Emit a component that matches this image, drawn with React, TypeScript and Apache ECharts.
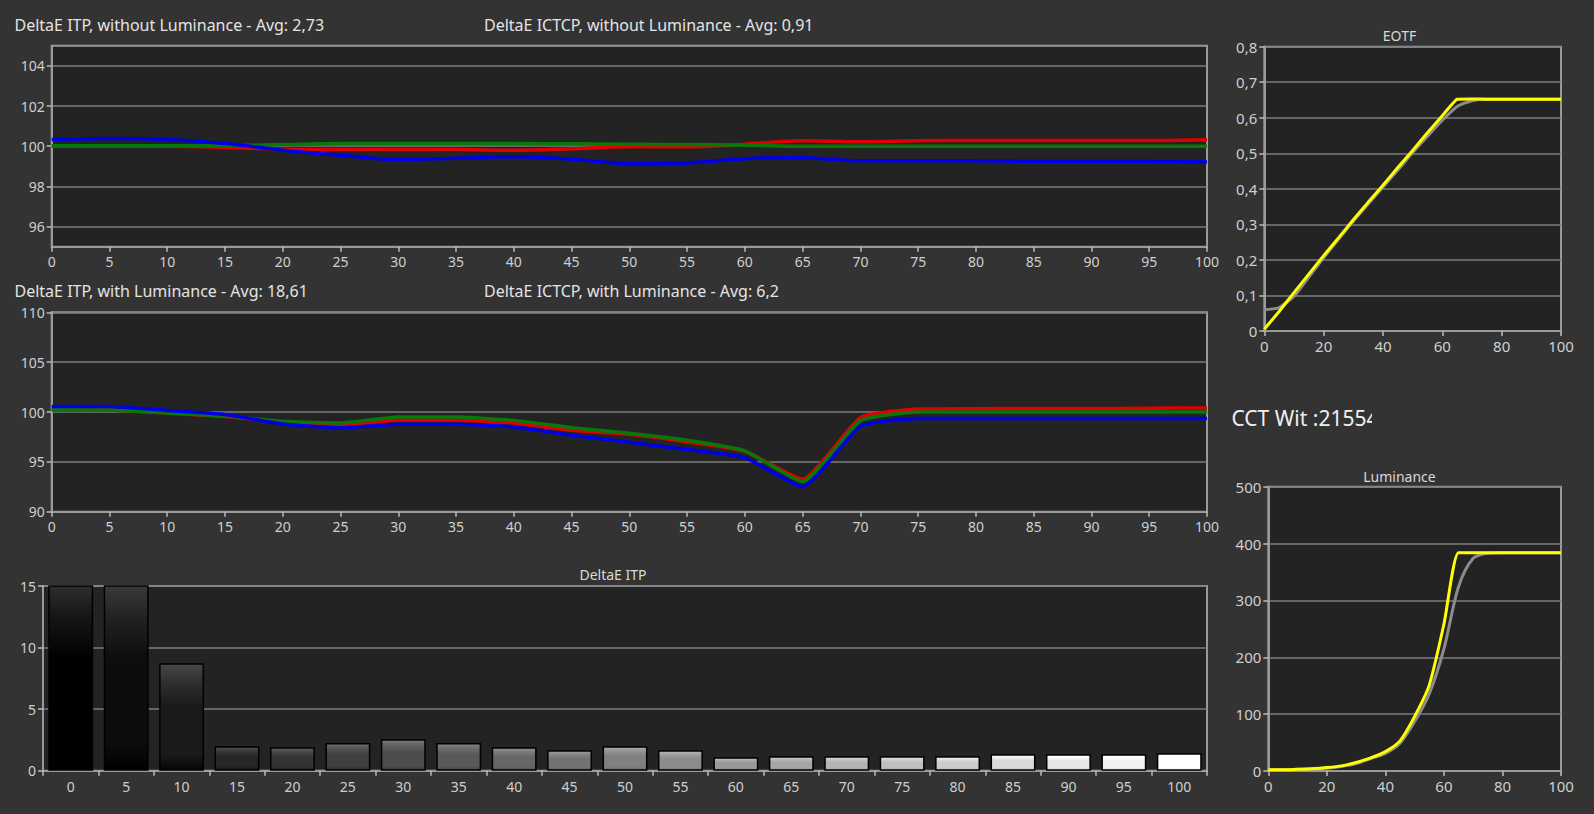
import React, { useEffect, useRef } from 'react';
import * as echarts from 'echarts';

// ---------- DATA ----------
const PCT = [0, 5, 10, 15, 20, 25, 30, 35, 40, 45, 50, 55, 60, 65, 70, 75, 80, 85, 90, 95, 100];
const BAR_CATEGORIES = ['0', '5', '10', '15', '20', '25', '30', '35', '40', '45', '50', '55', '60', '65', '70', '75', '80', '85', '90', '95', '100'];

// RGB balance without luminance
const topRed = [100.0, 100.0, 100.0, 99.95, 99.85, 99.83, 99.83, 99.83, 99.8, 99.87, 99.97, 99.97, 100.1, 100.27, 100.22, 100.27, 100.28, 100.28, 100.28, 100.28, 100.32];
const topGreen = [100.02, 100.02, 100.02, 100.03, 100.08, 100.13, 100.13, 100.13, 100.13, 100.12, 100.1, 100.08, 100.05, 100.0, 100.0, 100.0, 100.0, 100.0, 100.0, 100.0, 100.0];
const topBlue = [100.33, 100.38, 100.33, 100.13, 99.8, 99.55, 99.33, 99.4, 99.47, 99.35, 99.13, 99.17, 99.38, 99.43, 99.27, 99.27, 99.27, 99.25, 99.25, 99.25, 99.22];

// RGB balance with luminance
const midRed = [100.2, 100.2, 99.9, 99.55, 99.0, 98.7, 99.16, 99.16, 98.9, 98.16, 97.76, 97.0, 96.06, 93.26, 99.43, 100.3, 100.33, 100.35, 100.35, 100.38, 100.4];
const midGreen = [100.23, 100.2, 99.9, 99.6, 99.06, 98.9, 99.5, 99.5, 99.16, 98.43, 97.86, 97.16, 96.1, 93.0, 99.13, 100.0, 100.0, 100.0, 100.0, 100.0, 100.0];
const midBlue = [100.56, 100.56, 100.16, 99.76, 98.8, 98.4, 98.77, 98.77, 98.5, 97.66, 96.96, 96.23, 95.43, 92.5, 98.56, 99.36, 99.36, 99.36, 99.36, 99.36, 99.36];

// DeltaE ITP bars
const deltaITP = [24, 15.6, 8.72, 1.98, 1.9, 2.25, 2.55, 2.25, 1.9, 1.66, 1.98, 1.66, 1.09, 1.17, 1.17, 1.17, 1.17, 1.33, 1.33, 1.33, 1.41];

// EOTF
const eotfTarget = [0.06, 0.066, 0.098, 0.152, 0.206, 0.258, 0.309, 0.357, 0.405, 0.453, 0.502, 0.548, 0.593, 0.632, 0.648, 0.652, 0.652, 0.652, 0.652, 0.652, 0.652];
const eotfMeasured = [0.005, 0.055, 0.108, 0.16, 0.212, 0.262, 0.313, 0.362, 0.41, 0.46, 0.508, 0.558, 0.606, 0.652, 0.653, 0.652, 0.652, 0.652, 0.652, 0.652, 0.652];

// Luminance (cd/m2)
const lumTarget = [2, 2, 3, 4, 5, 8, 13, 22, 31, 49, 87, 136, 215, 324, 374, 383, 384, 384, 384, 384, 384];
const lumMeasured = [2, 2, 3, 4, 6, 9, 15, 23, 34, 53, 96, 151, 258, 384, 384, 384, 384, 384, 384, 384, 384];

const topYTicks = [96, 98, 100, 102, 104];

const TITLES = {
  itpNoLum: 'DeltaE ITP, without Luminance - Avg: 2,73',
  ictcpNoLum: 'DeltaE ICTCP, without Luminance - Avg: 0,91',
  itpLum: 'DeltaE ITP, with Luminance - Avg: 18,61',
  ictcpLum: 'DeltaE ICTCP, with Luminance - Avg: 6,2',
  bars: 'DeltaE ITP',
  eotf: 'EOTF',
  lum: 'Luminance',
  cct: 'CCT Wit :21554',
};

// ---------- STYLE ----------
const FONT = '"Segoe UI", "Noto Sans", "Open Sans", sans-serif';
const LABEL = '#cfcfcf';
const GRIDLINE = '#7d7d7d';
const BORDER = '#9a9a9a';
const PLOT_BG = '#232323';
const PAGE_BG = '#333333';

const pair = (xs: number[], ys: number[]) => xs.map((x, i) => [x, ys[i]]);

function gray(l: number) {
  const v = Math.max(0, Math.min(255, Math.round(l)));
  return `rgb(${v},${v},${v})`;
}

export default function App() {
  const ref = useRef<HTMLDivElement>(null);

  useEffect(() => {
    if (!ref.current) return;
    const chart = echarts.init(ref.current, undefined, { renderer: 'svg' });

    const gridBase = { show: true, backgroundColor: PLOT_BG, borderColor: BORDER, borderWidth: 2, containLabel: false };
    const grids = [
      { ...gridBase, left: 51.7, top: 45.7, width: 1155.3, height: 201 },
      { ...gridBase, left: 51.7, top: 312.3, width: 1155.3, height: 199.4 },
      { ...gridBase, left: 43, top: 586, width: 1164, height: 184.7 },
      { ...gridBase, left: 1264.3, top: 46.7, width: 296.7, height: 284.3 },
      { ...gridBase, left: 1268.3, top: 486.7, width: 292.7, height: 284.3 },
    ];

    const axisLabel = { color: LABEL, fontSize: 14, fontFamily: FONT };
    const axisLine = { show: true, lineStyle: { color: BORDER, width: 2 } };
    const axisTick = { show: true, length: 5, lineStyle: { color: '#bdbdbd', width: 1.5 } };
    const splitLine = { show: true, lineStyle: { color: GRIDLINE, width: 1.5 } };

    const pctAxis = (gridIndex: number) => ({
      type: 'value', gridIndex, min: 0, max: 100, interval: 5,
      axisLabel: { ...axisLabel, margin: 8 }, axisLine, axisTick, splitLine: { show: false },
    });
    const small20Axis = (gridIndex: number) => ({
      type: 'value', gridIndex, min: 0, max: 100, interval: 20,
      axisLabel: { ...axisLabel, fontSize: 15, margin: 7 }, axisLine, axisTick, splitLine: { show: false },
    });

    const xAxis = [
      pctAxis(0),
      pctAxis(1),
      {
        type: 'category', gridIndex: 2, data: BAR_CATEGORIES, boundaryGap: true,
        axisLabel: { ...axisLabel, margin: 9 }, axisLine,
        axisTick: { ...axisTick, alignWithLabel: false }, splitLine: { show: false },
      },
      small20Axis(3),
      small20Axis(4),
    ];

    const yAxis = [
      {
        type: 'value', gridIndex: 0, min: 95, max: 105,
        axisLabel: { ...axisLabel, margin: 7, customValues: topYTicks },
        axisTick: { ...axisTick, customValues: topYTicks },
        axisLine, splitLine,
      },
      {
        type: 'value', gridIndex: 1, min: 90, max: 110, interval: 5,
        axisLabel: { ...axisLabel, margin: 7 }, axisLine, axisTick, splitLine,
      },
      {
        type: 'value', gridIndex: 2, min: 0, max: 15, interval: 5,
        axisLabel: { ...axisLabel, margin: 7 }, axisLine, axisTick, splitLine,
      },
      {
        type: 'value', gridIndex: 3, min: 0, max: 0.8, interval: 0.1,
        axisLabel: {
          ...axisLabel, fontSize: 15, margin: 7,
          formatter: (v: number) => (v === 0 ? '0' : (Math.round(v * 10) / 10).toFixed(1).replace('.', ',')),
        },
        axisLine, axisTick, splitLine,
      },
      {
        type: 'value', gridIndex: 4, min: 0, max: 500, interval: 100,
        axisLabel: { ...axisLabel, fontSize: 15, margin: 7 }, axisLine, axisTick, splitLine,
      },
    ];

    const line = (name: string, xi: number, data: number[][], color: string, width: number, smooth: number | boolean) => ({
      type: 'line', name, xAxisIndex: xi, yAxisIndex: xi, data, showSymbol: false, symbol: 'none',
      smooth, lineStyle: { color, width }, itemStyle: { color }, z: 3,
    });

    const RED = '#e00000';
    const GREEN = '#087808';
    const BLUE = '#0000e6';

    const barData = deltaITP.map((v, i) => {
      const l = (255 * PCT[i]) / 100;
      return {
        value: v,
        itemStyle: {
          color: new echarts.graphic.LinearGradient(0, 0, 0, 1, [
            { offset: 0, color: gray(l + 45) },
            { offset: 0.18, color: gray(l + 20) },
            { offset: 0.4, color: gray(l) },
            { offset: 0.85, color: gray(l) },
            { offset: 1, color: gray(l - 20) },
          ]),
          borderColor: '#000',
          borderWidth: 1.5,
        },
      };
    });

    const txt = (text: string, x: number, y: number, size: number, align = 'left', fill = '#e4e4e4') => ({
      type: 'text', x, y, silent: true, z: 10,
      style: { text, fill, fontSize: size, fontFamily: FONT, align, verticalAlign: 'middle' },
    });

    chart.setOption({
      animation: false,
      backgroundColor: PAGE_BG,
      grid: grids,
      xAxis,
      yAxis,
      series: [
        line('R', 0, pair(PCT, topRed), RED, 3.5, 0.35),
        line('G', 0, pair(PCT, topGreen), GREEN, 3.5, 0.35),
        line('B', 0, pair(PCT, topBlue), BLUE, 3.5, 0.35),
        line('R', 1, pair(PCT, midRed), RED, 3.5, 0.15),
        line('G', 1, pair(PCT, midGreen), GREEN, 3.5, 0.15),
        line('B', 1, pair(PCT, midBlue), BLUE, 3.5, 0.15),
        {
          type: 'bar', name: 'DeltaE ITP', xAxisIndex: 2, yAxisIndex: 2, data: barData,
          barCategoryGap: '19%', clip: true, z: 3,
        },
        line('Target', 3, pair(PCT, eotfTarget), '#8c8c8c', 3, 0.2),
        line('Measured', 3, pair(PCT, eotfMeasured), '#ffff00', 3, 0.1),
        line('Target', 4, pair(PCT, lumTarget), '#8c8c8c', 3, 0.3),
        line('Measured', 4, pair(PCT, lumMeasured), '#ffff00', 3, 0.2),
      ],
      graphic: [
        txt(TITLES.itpNoLum, 14.5, 25, 16),
        txt(TITLES.ictcpNoLum, 484, 25, 16),
        txt(TITLES.itpLum, 14.5, 291, 16),
        txt(TITLES.ictcpLum, 484, 291, 16),
        txt(TITLES.bars, 613, 574.5, 14, 'center', '#d8d8d8'),
        txt(TITLES.eotf, 1399.5, 35, 14, 'center', '#d8d8d8'),
        txt(TITLES.lum, 1399.5, 476, 14, 'center', '#d8d8d8'),
        txt(TITLES.cct, 1231.5, 418, 21, 'left', '#f0f0f0'),
        {
          type: 'rect', silent: true, z: 11,
          shape: { x: 1372, y: 400, width: 40, height: 36 },
          style: { fill: PAGE_BG },
        },
      ],
    });

    return () => chart.dispose();
  }, []);

  return (
    <div
      ref={ref}
      style={{ position: 'fixed', left: 0, top: 0, width: 1594, height: 814, background: PAGE_BG }}
    />
  );
}
